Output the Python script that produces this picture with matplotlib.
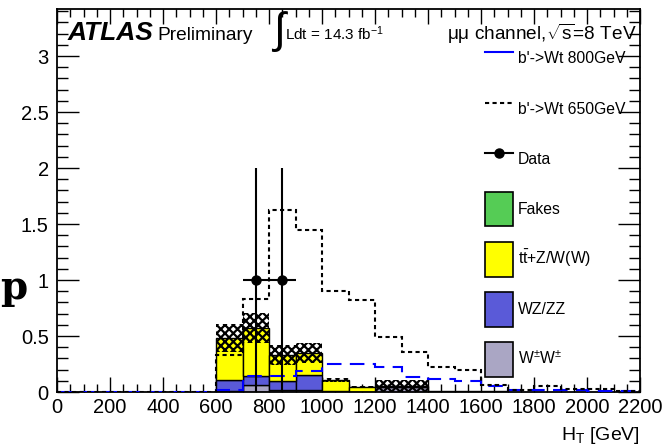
import numpy as np
import matplotlib
matplotlib.use("Agg")
import matplotlib.pyplot as plt
from matplotlib.patches import Patch
from matplotlib.lines import Line2D

plt.rcParams["font.family"] = ["Liberation Sans", "DejaVu Sans"]
plt.rcParams["mathtext.fontset"] = "custom"
plt.rcParams["mathtext.rm"] = "Liberation Sans"
plt.rcParams["mathtext.it"] = "Liberation Sans:italic"
plt.rcParams["mathtext.bf"] = "Liberation Sans:bold"
plt.rcParams["hatch.linewidth"] = 1.6

# HT binning, 100 GeV bins from 0 to 2200
edges = np.arange(0, 2300, 100)

# backgrounds (stacked from the bottom)
ww = [0, 0, 0, 0, 0, 0, 0.008, 0.06, 0.02, 0.018, 0, 0, 0.045, 0.045, 0, 0, 0, 0, 0, 0, 0, 0]
wz = [0, 0, 0, 0, 0, 0, 0.10, 0.08, 0.075, 0.13, 0.005, 0.002, 0, 0, 0, 0, 0, 0, 0, 0, 0, 0]
ttv = [0, 0, 0, 0, 0, 0, 0.372, 0.43, 0.235, 0.197, 0.10, 0.045, 0.005, 0.005, 0.008, 0.008, 0.006, 0, 0, 0, 0, 0]
fakes = [0] * 22
bkg_err = [0, 0, 0, 0, 0, 0, 0.125, 0.135, 0.09, 0.09, 0.02, 0.01, 0.055, 0.055, 0.004, 0.004, 0.003, 0, 0, 0, 0, 0]

# signal samples
sig650 = [0, 0, 0, 0, 0, 0, 0.33, 0.83, 1.625, 1.45, 0.90, 0.82, 0.495, 0.355, 0.225, 0.20, 0.06, 0.02, 0.05, 0.03, 0.03, 0.01]
sig800 = [0, 0, 0, 0, 0, 0, 0.018, 0.14, 0.14, 0.19, 0.25, 0.25, 0.226, 0.137, 0.113, 0.098, 0.05, 0.02, 0.02, 0.015, 0.01, 0.01]

# observed events
data_x = [750, 850]
data_y = [1, 1]
data_err = [1, 1]

col_fakes = "#55cc55"
col_ttv = "#ffff00"
col_wz = "#5a5ad8"
col_ww = "#aaa6c4"

fig = plt.figure(figsize=(6.72, 4.45), dpi=100)
ax = fig.add_axes([57 / 672, 1 - 392 / 445, 583 / 672, 383 / 445])

lo = edges[:-1]
bottom = np.zeros(len(lo))
for vals, col in [(ww, col_ww), (wz, col_wz), (ttv, col_ttv), (fakes, col_fakes)]:
    v = np.array(vals)
    m = v > 0
    ax.bar(lo[m], v[m], width=100, bottom=bottom[m], align="edge",
           color=col, edgecolor="black", linewidth=1.0, zorder=2)
    bottom += v

# stat+syst band
err = np.array(bkg_err)
m = err > 0
ax.bar(lo[m], 2 * err[m], width=100, bottom=bottom[m] - err[m], align="edge",
       fill=False, hatch="xxxx", edgecolor="black", linewidth=0, zorder=3)

ax.stairs(sig800, edges, color="blue", linewidth=1.5, linestyle=(0, (7, 4)), zorder=4)
ax.stairs(sig650, edges, color="black", linewidth=1.5, linestyle=(0, (2, 1.6)), zorder=4)

ax.errorbar(data_x, data_y, yerr=data_err, xerr=50, fmt="o", color="black",
            markersize=6.5, elinewidth=1.5, capsize=0, zorder=5)

ax.set_xlim(0, 2200)
ax.set_ylim(0, 3.42)
ax.set_xticks(np.arange(0, 2201, 200))
ax.set_xticks(np.arange(0, 2201, 50), minor=True)
ax.set_yticks([0, 0.5, 1, 1.5, 2, 2.5, 3])
ax.set_yticklabels(["0", "0.5", "1", "1.5", "2", "2.5", "3"])
ax.set_yticks(np.arange(0, 3.42, 0.1), minor=True)
ax.tick_params(axis="both", which="both", direction="in", top=True, right=True,
               labelsize=14.5, width=1.0)
ax.tick_params(axis="x", which="major", length=11, pad=4)
ax.tick_params(axis="x", which="minor", length=5.5)
ax.tick_params(axis="y", which="major", length=16, pad=6)
ax.tick_params(axis="y", which="minor", length=8)
for s in ax.spines.values():
    s.set_linewidth(1.3)

ax.text(1.0, -0.085, r"H$_{\rm T}$ [GeV]", transform=ax.transAxes,
        ha="right", va="top", fontsize=14)

# header
fig.text(68 / 672, 1 - 40 / 445, "ATLAS", fontsize=19, fontweight="bold",
         fontstyle="italic", va="baseline")
fig.text(157 / 672, 1 - 40 / 445, "Preliminary", fontsize=13.8, va="baseline")
fig.text(271 / 672, 1 - 43 / 445, r"$\int$", fontsize=31, va="baseline",
         family="DejaVu Sans")
fig.text(285 / 672, 1 - 40 / 445, r"Ldt = 14.3 fb$^{-1}$", fontsize=11, va="baseline")
fig.text(637 / 672, 1 - 40 / 445, r"μμ channel,$\sqrt{\rm s}$=8 TeV",
         fontsize=13.7, va="baseline", ha="right")

fig.text(0, 1 - 288 / 445, "p", fontsize=28, fontweight="bold",
         family="DejaVu Serif", va="center", ha="left")

handles = [
    Line2D([], [], color="blue", linewidth=1.5),
    Line2D([], [], color="black", linewidth=1.5, linestyle=(0, (2, 1.6))),
    Line2D([], [], color="black", linewidth=1.5, marker="o", markersize=6.5),
    Patch(facecolor=col_fakes, edgecolor="black", linewidth=1.2),
    Patch(facecolor=col_ttv, edgecolor="black", linewidth=1.2),
    Patch(facecolor=col_wz, edgecolor="black", linewidth=1.2),
    Patch(facecolor=col_ww, edgecolor="black", linewidth=1.2),
]
labels = ["b'->Wt 800GeV", "b'->Wt 650GeV", "Data", "Fakes",
          r"t$\bar{\rm t}$+Z/W(W)", "WZ/ZZ", r"W$^{\pm}$W$^{\pm}$"]
ax.legend(handles, labels, loc="upper left", bbox_to_anchor=(0.734, 0.915),
          frameon=False, fontsize=11.3, handleheight=3.0, handlelength=1.8,
          labelspacing=1.0, handletextpad=0.3, borderpad=0, borderaxespad=0)

fig.savefig("out.png", dpi=100)
